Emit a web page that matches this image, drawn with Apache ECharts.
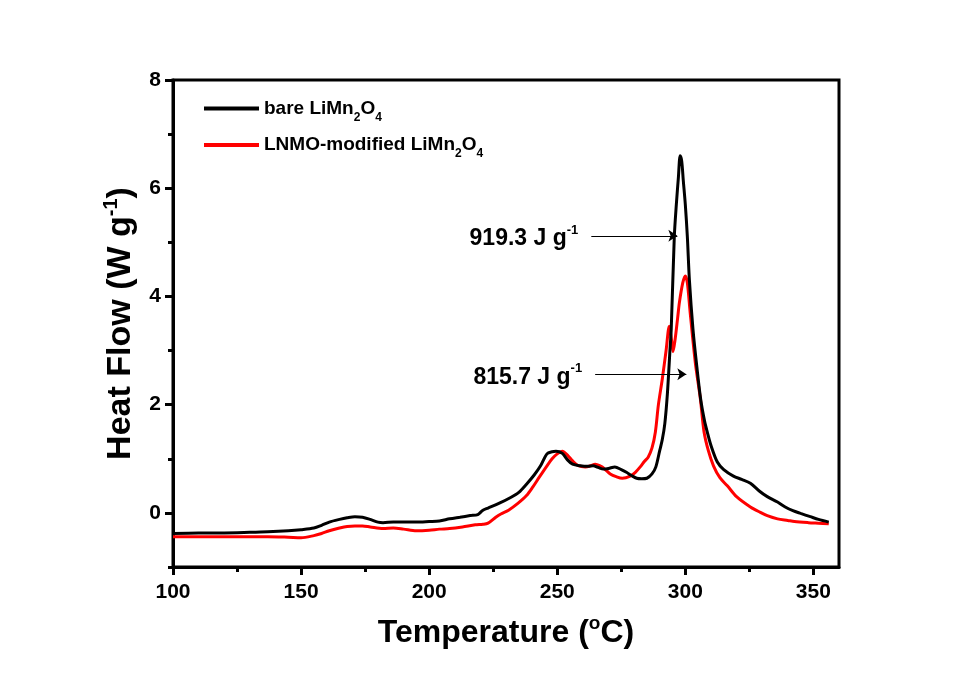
<!DOCTYPE html>
<html>
<head>
<meta charset="utf-8">
<script src="https://cdn.jsdelivr.net/npm/echarts@6/dist/echarts.min.js"></script>
<style>html,body{margin:0;padding:0;background:#fff}#c{width:974px;height:681px}</style>
</head>
<body>
<div id="c"></div>
<script>
// ---- data ----
const tempsBare = [100,110,120,130,137,145,150,155,158,161,165,168,171,174,177,180,182,186,190,195,200,204,208,212,216,219,221,223,227,232,235,238,241,243.5,246,248,249.5,252,254,256,259,262,264,266,268,270,272.5,275,277,279,281,283,285,287,288.5,290,291,292,293,294,294.5,295.7,296.5,297.3,298,298.6,299.2,300,300.8,301.6,303,304.5,306,307.5,308.6,310,312.5,315,318.8,322,325.4,329,332,336,339,342,345,348.8,352,356];
const heatBare  = [-0.38,-0.37,-0.37,-0.36,-0.35,-0.33,-0.31,-0.28,-0.23,-0.17,-0.12,-0.09,-0.07,-0.08,-0.12,-0.17,-0.18,-0.17,-0.17,-0.17,-0.16,-0.15,-0.11,-0.08,-0.05,-0.03,0.05,0.09,0.17,0.29,0.38,0.53,0.70,0.87,1.09,1.13,1.14,1.10,0.98,0.90,0.87,0.86,0.87,0.84,0.81,0.82,0.85,0.80,0.75,0.69,0.64,0.63,0.64,0.72,0.85,1.15,1.35,1.65,2.2,3.0,3.39,5.1,5.7,6.2,6.6,6.5,6.15,5.7,5.1,4.3,3.39,2.7,2.1,1.70,1.49,1.25,0.94,0.80,0.68,0.62,0.55,0.40,0.30,0.20,0.11,0.04,-0.01,-0.07,-0.12,-0.17];
const tempsLnmo = [100,110,120,130,137,145,150,155,158,161,165,168,171,174,177,182,186,190,195,200,204,208,213,218,221,223,226,228,231,234.5,238,240.5,243,246,248,250,252,254.3,256,258,261,263,264.8,267.5,269,270.7,273,275.4,278.5,280.5,282.4,284,285.5,287,288.3,289.5,291,292.5,293.75,294.6,295.2,296,297,297.7,299,300,300.8,301.9,303.9,305.9,307.3,309,311,313.5,316.4,320,325.4,329.3,332,336,340,342.6,348,352,356];
const heatLnmo  = [-0.44,-0.44,-0.44,-0.44,-0.44,-0.45,-0.46,-0.42,-0.38,-0.33,-0.28,-0.25,-0.24,-0.24,-0.26,-0.29,-0.28,-0.30,-0.33,-0.32,-0.30,-0.29,-0.26,-0.22,-0.21,-0.19,-0.08,-0.02,0.05,0.17,0.32,0.48,0.66,0.87,1.00,1.09,1.14,1.05,0.96,0.88,0.85,0.87,0.90,0.85,0.79,0.72,0.67,0.64,0.68,0.75,0.85,0.95,1.03,1.20,1.49,2.0,2.47,3.0,3.45,3.2,2.98,3.2,3.6,3.89,4.25,4.38,4.25,3.7,2.78,2.1,1.5,1.15,0.87,0.65,0.50,0.30,0.11,0.01,-0.05,-0.11,-0.14,-0.16,-0.18,-0.19,-0.20];
const xMajor = [100,150,200,250,300,350];
const xMinor = [125,175,225,275,325];
const yMajor = [0,2,4,6,8];
const yMinor = [-1,1,3,5,7];
const seriesNames = ['bare LiMn2O4','LNMO-modified LiMn2O4'];
const annotations = [
  {text:'919.3 J g', from:[263.3,5.12], to:[296.9,5.12]},
  {text:'815.7 J g', from:[264.8,2.56], to:[300.4,2.56]}
];

const FONT = "'Liberation Sans', Arial, sans-serif";
const pair = (xs, ys) => xs.map((x,i)=>[x, ys[i]]);

const chart = echarts.init(document.getElementById('c'), null, {renderer:'canvas'});
const xBase = {type:'value', min:100, max:360, position:'bottom', gridIndex:0};
const yBase = {type:'value', min:-1, max:8, position:'left', gridIndex:0};
function titleStyle(size){
  return {fontFamily:FONT, fontWeight:'bold', fontSize:size, color:'#000',
    rich:{
      t:{fontFamily:FONT, fontWeight:'bold', fontSize:size, lineHeight:size+6, color:'#000'},
      u:{fontFamily:FONT, fontWeight:'bold', fontSize:Math.round(size*0.6), lineHeight:Math.round(size*0.6), verticalAlign:'top', color:'#000'}
    }};
}
chart.setOption({
  animation:false,
  backgroundColor:'#fff',
  grid:{left:173, right:135, top:80, bottom:114, show:true, borderColor:'#000', borderWidth:3, backgroundColor:'transparent'},
  legend:{
    orient:'vertical', left:199, top:94, itemWidth:55, itemHeight:4, itemGap:12, icon:'rect',
    data:seriesNames,
    formatter: function(n){
      const parts = n.split('LiMn2O4');
      return '{b|' + parts[0] + 'LiMn}{s|2}{b|O}{s|4}';
    },
    textStyle:{
      fontFamily:FONT, fontWeight:'bold', fontSize:19, color:'#000',
      rich:{
        b:{fontFamily:FONT, fontWeight:'bold', fontSize:19, lineHeight:30, color:'#000'},
        s:{fontFamily:FONT, fontWeight:'bold', fontSize:12, lineHeight:12, verticalAlign:'bottom', color:'#000'}
      }
    }
  },
  xAxis:[
    Object.assign({}, xBase, {
      name:'{t|Temperature (}{u|o}{t|C)}', nameLocation:'middle', nameGap:47,
      nameTextStyle:titleStyle(32),
      axisLine:{show:true, onZero:false, lineStyle:{color:'#000', width:3}},
      axisTick:{show:true, inside:false, length:8, lineStyle:{color:'#000', width:3}, customValues:xMajor},
      axisLabel:{show:true, margin:15, fontFamily:FONT, fontWeight:'bold', fontSize:21, color:'#000', customValues:xMajor},
      splitLine:{show:false}
    }),
    Object.assign({}, xBase, {
      axisLine:{show:false, onZero:false},
      axisTick:{show:true, inside:false, length:5, lineStyle:{color:'#000', width:3}, customValues:xMinor},
      axisLabel:{show:false},
      splitLine:{show:false}
    })
  ],
  yAxis:[
    Object.assign({}, yBase, {
      name:'{t|Heat Flow (W g}{u|-1}{t|)}', nameLocation:'middle', nameGap:32, nameRotate:90,
      nameTextStyle:titleStyle(34),
      axisLine:{show:true, onZero:false, lineStyle:{color:'#000', width:3}},
      axisTick:{show:true, inside:false, length:8, lineStyle:{color:'#000', width:3}, customValues:yMajor},
      axisLabel:{show:true, margin:12, fontFamily:FONT, fontWeight:'bold', fontSize:21, color:'#000', customValues:yMajor},
      splitLine:{show:false}
    }),
    Object.assign({}, yBase, {
      axisLine:{show:false, onZero:false},
      axisTick:{show:true, inside:false, length:5, lineStyle:{color:'#000', width:3}, customValues:yMinor},
      axisLabel:{show:false},
      splitLine:{show:false}
    })
  ],
  series:[
    {
      name:seriesNames[0], type:'line', xAxisIndex:0, yAxisIndex:0,
      data:pair(tempsBare, heatBare), showSymbol:false, smooth:0.3,
      lineStyle:{color:'#000', width:3}, itemStyle:{color:'#000'}, z:3,
      markLine:{
        silent:true, symbol:['none','arrow'], symbolSize:9, precision:3,
        lineStyle:{color:'#000', width:1, type:'solid'},
        label:{show:true, position:'start', distance:13, padding:[6,0,0,0],
          formatter:function(p){return '{a|' + p.name + '}{s|-1}';},
          rich:{
            a:{fontFamily:FONT, fontWeight:'bold', fontSize:23, lineHeight:30, color:'#000'},
            s:{fontFamily:FONT, fontWeight:'bold', fontSize:13, lineHeight:13, verticalAlign:'top', color:'#000'}
          }},
        data: annotations.map(a=>[{name:a.text, coord:a.from},{coord:a.to}])
      }
    },
    {
      name:seriesNames[1], type:'line', xAxisIndex:0, yAxisIndex:0,
      data:pair(tempsLnmo, heatLnmo), showSymbol:false, smooth:0.3,
      lineStyle:{color:'#ff0000', width:3}, itemStyle:{color:'#ff0000'}, z:2
    }
  ]
});
</script>
</body>
</html>
